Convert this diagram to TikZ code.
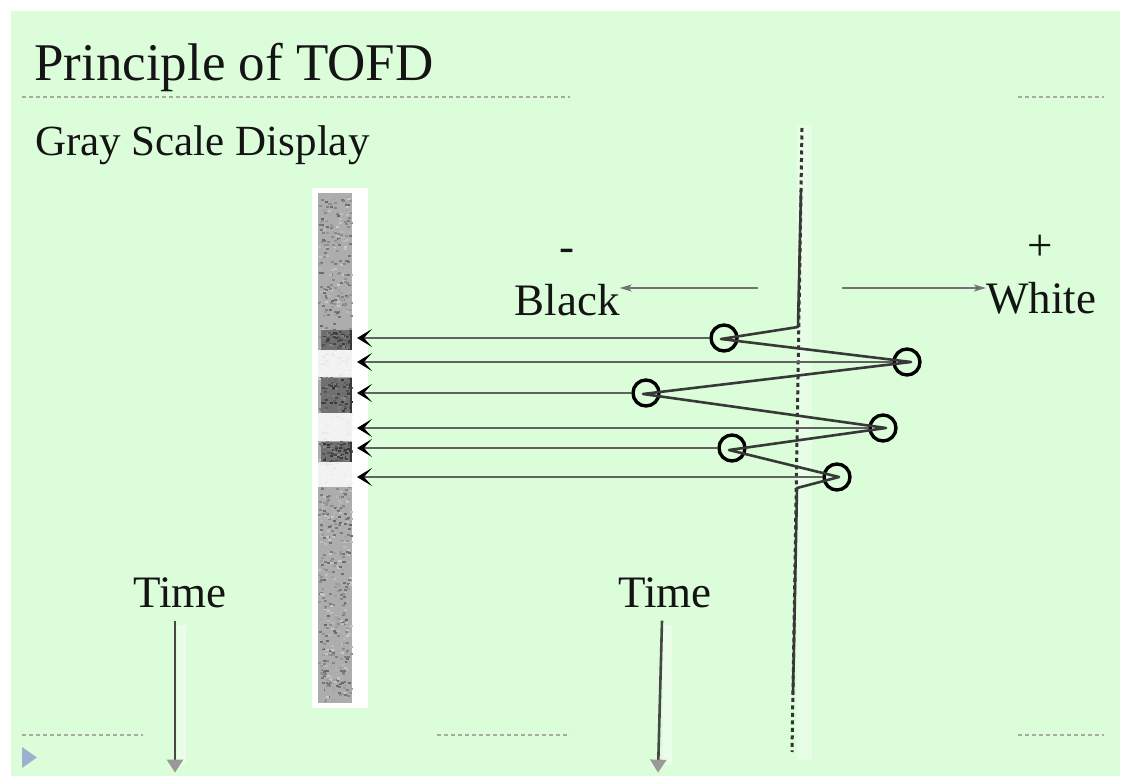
\documentclass[tikz,border=0pt]{standalone}
\usepackage{fontspec}
\setmainfont{Liberation Serif}
\usetikzlibrary{arrows.meta}

\definecolor{slide}{HTML}{DCFDDA}
\definecolor{rulegray}{HTML}{A3ABA3}
\definecolor{bullet}{HTML}{9DB0D0}

\begin{document}
\begin{tikzpicture}[x=1pt, y=-1pt,
  every node/.style={inner sep=0pt, text=black!92},
  big/.style={font=\fontsize{45}{54}\selectfont},
  ring/.style={circle, draw=black, line width=3.4pt, minimum size=26pt},
  echo/.style={draw=black!62, line width=2.2pt, -{Stealth[length=15pt, width=18pt, inset=8pt, black]}},
  trace/.style={draw=black!78, line width=2.6pt, line join=round},
  hint/.style={draw=black!55, line width=1.5pt, -{Stealth[length=12pt, width=7pt, inset=3pt]}},
  timearrow/.style={draw=black!72, line width=2.6pt, -{Triangle[length=13pt, width=16pt, black!40]}},
  slideline/.style={draw=rulegray, line width=1.2pt, dash pattern=on 4pt off 3pt}]

  % slide background
  \fill[white] (0,0) rectangle (1128,776);
  \fill[slide] (11,11) rectangle (1120,776);
  \useasboundingbox (0,0) rectangle (1128,776);

  \draw[slideline] (22,97) -- (570,97);
  \draw[slideline] (1018,97) -- (1104,97);
  \draw[slideline] (22,735) -- (143,735);
  \draw[slideline] (437,735) -- (570,735);
  \draw[slideline] (1018,735) -- (1104,735);
  \fill[bullet] (22,747) -- (37,757.5) -- (22,768) -- cycle;

  \node[anchor=base west, font=\fontsize{53}{62}\selectfont] (title) at (34,81) {Principle of TOFD};
  \node[anchor=base west, font=\fontsize{43}{52}\selectfont] (sub) at (35,155) {Gray Scale Display};

  % gray scale strip
  \fill[white] (312,188) rectangle (368,708);
  \fill[black!32] (318,193) rectangle (352,703);
  \pgfmathsetseed{12}
  \foreach \k in {1,...,900}{
    \pgfmathsetmacro{\px}{318+32*rnd}
    \pgfmathsetmacro{\py}{193+508*rnd}
    \pgfmathsetmacro{\gv}{20+40*rnd}
    \fill[black!\gv] (\px,\py) rectangle ++(3,2);
  }
  \foreach \ya/\yb in {350/377, 413/441, 462/487}
    \fill[white, opacity=0.85] (316,\ya) rectangle (355,\yb);
  \foreach \ya/\yb in {330/350, 378/413, 442/462}{
    \fill[black!56] (321,\ya) rectangle (352,\yb);
    \foreach \k in {1,...,80}{
      \pgfmathsetmacro{\px}{321+29*rnd}
      \pgfmathsetmacro{\py}{\ya+(\yb-\ya-2)*rnd}
      \pgfmathsetmacro{\gv}{45+35*rnd}
      \fill[black!\gv] (\px,\py) rectangle ++(3,2);
    }
    \draw[black!78, line width=2pt] (350.5,\ya) -- (350.5,\yb);
  }
  \coordinate (strip) at (357,0);

  % zero line and A-scan trace
  \fill[white, opacity=0.35] (797,125) rectangle (812,760);
  \draw[black!80, line width=3pt, dash pattern=on 4pt off 3.5pt] (802,128) -- (792,752);

  \node[ring] (c1) at (724,338) {};
  \node[ring] (c2) at (907,362) {};
  \node[ring] (c3) at (646,393) {};
  \node[ring] (c4) at (883,428) {};
  \node[ring] (c5) at (732,448) {};
  \node[ring] (c6) at (837,477) {};

  \coordinate (top) at (801,190);
  \coordinate (knee1) at (798,327);
  \coordinate (knee2) at (797,488);
  \coordinate (bot) at (793,695);
  \coordinate (t1) at (721,339);
  \coordinate (t2) at (911,362);
  \coordinate (t3) at (643,394);
  \coordinate (t4) at (886,428);
  \coordinate (t5) at (729,450);
  \coordinate (t6) at (839,477);
  \draw[trace] (top) -- (knee1) -- (t1) -- (t2) -- (t3) -- (t4)
    -- (t5) -- (t6) -- (knee2) -- (bot);

  \foreach \c in {1,...,6}
    \draw[echo] (c\c.west) -- (c\c.west -| strip);

  % polarity labels
  \node[big] (minus) at (567,255) {-};
  \node[big, anchor=base] (black) at (567,315) {Black};
  \node[big] (plus) at (1040,248) {+};
  \node[big, anchor=base] (white) at (1041,313) {White};
  \coordinate (lft) at (758,288);
  \coordinate (rgt) at (842,288);
  \draw[hint] (lft) -- (lft -| black.east);
  \draw[hint] (rgt) -- (rgt -| white.west);

  % time axes
  \node[big, anchor=base] (time1) at (180,607) {Time};
  \node[big, anchor=base] (time2) at (665,607) {Time};
  \fill[white, opacity=0.4] (177,625) rectangle (186,765);
  \fill[white, opacity=0.4] (663,625) rectangle (672,765);
  \draw[timearrow] ([shift={(-5,13)}]time1.south) -- ++(0,152);
  \draw[timearrow] ([shift={(-3,13)}]time2.south) -- ++(-4,152);
\end{tikzpicture}
\end{document}
